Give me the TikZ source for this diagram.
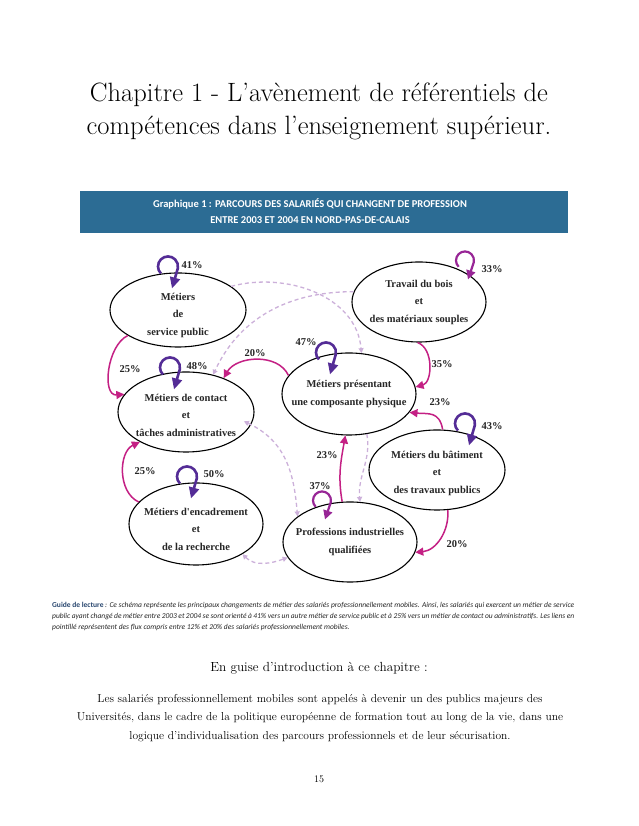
\documentclass[tikz,border=0pt]{standalone}
\usepackage{fontspec}
\usetikzlibrary{arrows.meta,shapes.geometric,calc}
\newfontfamily\elfont{Liberation Serif}
\newfontfamily\sansc{Carlito}
\definecolor{barblue}{RGB}{44,108,148}
\definecolor{loopdark}{RGB}{84,44,150}
\definecolor{loopmag}{RGB}{152,38,150}
\definecolor{flowmag}{RGB}{196,32,132}
\definecolor{lilac}{RGB}{204,176,218}
\definecolor{guideblue}{RGB}{40,70,110}
\begin{document}
\begin{tikzpicture}[x=1pt,y=1pt,
 metier/.style={ellipse, draw=black, line width=1.1pt, inner sep=0pt},
 mtext/.style={align=center, inner sep=0pt, font=\elfont\bfseries\fontsize{10.5}{17.5}\selectfont, text=black!85},
 selfloop/.style={loopdark, line width=2.6pt, -{Triangle[length=11pt,width=10pt]}},
 selfloopm/.style={loopmag, line width=2.2pt, -{Triangle[length=9pt,width=9pt]}},
 flow/.style={flowmag, line width=1.5pt, -{Triangle[length=8pt,width=8pt]}},
 minor/.style={lilac, line width=1.3pt, dash pattern=on 4pt off 3pt, -{Triangle[length=5pt,width=5pt]}},
 minorboth/.style={lilac, line width=1.3pt, dash pattern=on 4pt off 3pt, {Triangle[length=5pt,width=5pt]}-{Triangle[length=5pt,width=5pt]}},
 pct/.style={font=\elfont\bfseries\fontsize{10.5}{12}\selectfont, text=black!85, inner sep=0pt},
 guide/.style={anchor=west, inner sep=0pt, font=\sansc\itshape\fontsize{7.5}{9}\selectfont, text=black!85},
]
\useasboundingbox (0,0) rectangle (638,826);
\fill[white] (0,0) rectangle (638,826);

% title
\node[align=center, font=\fontsize{26.5}{33}\selectfont] (title) at (319,714.5)
  {Chapitre 1 - L’avènement de référentiels de\\compétences dans l’enseignement supérieur.};

% header bar
\node[fill=barblue, minimum width=488pt, minimum height=42pt, inner sep=0pt] (bar) at (324,614) {};
\node[align=center, text=white, font=\sansc\bfseries\fontsize{10.5}{16}\selectfont] (bartext) at (310,615)
  {Graphique 1 : PARCOURS DES SALARIÉS QUI CHANGENT DE PROFESSION\\ENTRE 2003 ET 2004 EN NORD-PAS-DE-CALAIS};

% ellipses
\node[metier, minimum width=136pt, minimum height=74pt] (SP) at (178,516) {};
\node[metier, minimum width=134pt, minimum height=80pt] (TB) at (419,524) {};
\node[metier, minimum width=136pt, minimum height=80pt] (CT) at (186,414) {};
\node[metier, minimum width=134pt, minimum height=82pt] (CP) at (349,432) {};
\node[metier, minimum width=136pt, minimum height=80pt] (BT) at (437,356) {};
\node[metier, minimum width=134pt, minimum height=82pt] (EN) at (196,302) {};
\node[metier, minimum width=134pt, minimum height=80pt] (PI) at (350,284) {};
\node[mtext] (SPt) at ($(SP)+(0,-5)$) {Métiers\\de\\service public};
\node[mtext] (TBt) at (TB) {Travail du bois\\et\\des matériaux souples};
\node[mtext] (CTt) at ($(CT)+(0,-3)$) {Métiers de contact\\et\\tâches administratives};
\node[mtext] (CPt) at (CP) {Métiers présentant\\une composante physique};
\node[mtext] (BTt) at ($(BT)+(0,-3)$) {Métiers du bâtiment\\et\\des travaux publics};
\node[mtext] (ENt) at ($(EN)+(0,-5)$) {Métiers d'encadrement\\et\\de la recherche};
\node[mtext] (PIt) at (PI) {Professions industrielles\\qualifiées};

% dashed minor flows
\draw[minor] (SP.24) to[out=15, in=95] (CP.73);
\draw[minor] (TB.171) to[out=180, in=65] (CT.54);
\draw[minorboth, shorten <=-8pt] (CT.349) to[out=-25, in=95] (PI.154);
\draw[minorboth] (EN.327) to[out=-45, in=200] (PI.194);
\draw[minor] (CP.294) to[out=-80, in=95] (PI.76);

% main flows
\draw[flow] (SP.207) to[out=205, in=185] (CT.164);
\draw[flow] (CP.163) to[out=115, in=60] (CT.42);
\draw[flow] (TB.268) to[out=-20, in=15] (CP.6);
\draw[flow] (BT.82) to[out=100, in=-5, looseness=1.3] (CP.343);
\draw[flow] (PI.101) to[out=100, in=-100] (CP.265);
\draw[flow] (EN.159) to[out=155, in=205] (CT.213);
\draw[flow] (BT.285) to[out=-85, in=5] (PI.351);

% self loops
\coordinate (SPl) at ($(SP.north)+(-10,6)$);
\coordinate (CTl) at ($(CT.north)+(-16,4)$);
\coordinate (CPl) at ($(CP.north)+(-23,0)$);
\coordinate (BTl) at ($(BT.north)+(28,6)$);
\coordinate (ENl) at ($(EN.north)+(-9,6)$);
\coordinate (TBl) at ($(TB.north)+(46,1)$);
\coordinate (PIl) at ($(PI.north)+(-28,1)$);
\foreach \c in {SPl,CTl,CPl,BTl,ENl}{
  \draw[selfloop] ($(\c)+(225:10)$) arc[start angle=225, end angle=-10, radius=10] -- ($(\c)+(4,-22)$);
}
\foreach \c in {TBl,PIl}{
  \draw[selfloopm] ($(\c)+(225:9)$) arc[start angle=225, end angle=-10, radius=9] -- ($(\c)+(3,-19)$);
}

% percentages
\node[pct] (p41) at (192,561) {41\%};
\node[pct] (p48) at (197,460) {48\%};
\node[pct] (p47) at (306,484) {47\%};
\node[pct] (p33) at (492,557) {33\%};
\node[pct] (p43) at (492,400) {43\%};
\node[pct] (p50) at (214,352) {50\%};
\node[pct] (p37) at (320,340) {37\%};
\node[pct] (p25a) at (130,457) {25\%};
\node[pct] (p20a) at (255,473) {20\%};
\node[pct] (p35) at (442,462) {35\%};
\node[pct] (p23a) at (440,424) {23\%};
\node[pct] (p23b) at (327,371) {23\%};
\node[pct] (p25b) at (145,355) {25\%};
\node[pct] (p20b) at (457,282) {20\%};

% guide de lecture
\node[guide] (g1) at (52,220)
  {\makebox[522pt][s]{{\upshape\bfseries\color{guideblue}Guide de lecture} : Ce schéma représente les principaux changements de métier des salariés professionnellement mobiles. Ainsi, les salariés qui exercent un métier de service}};
\node[guide] (g2) at (52,209)
  {\makebox[522pt][s]{public ayant changé de métier entre 2003 et 2004 se sont orienté à 41\% vers un autre métier de service public et à 25\% vers un métier de contact ou administratifs. Les liens en}};
\node[guide] (g3) at (52,198)
  {pointillé représentent des flux compris entre 12\% et 20\% des salariés professionnellement mobiles.};

% bottom text
\node[font=\fontsize{13.2}{15}\selectfont] (intro) at (319,158) {En guise d’introduction à ce chapitre :};
\node[align=center, font=\fontsize{11.5}{18.5}\selectfont] (para) at (320,108)
  {Les salariés professionnellement mobiles sont appelés à devenir un des publics majeurs des\\
   Universités, dans le cadre de la politique européenne de formation tout au long de la vie, dans une\\
   logique d’individualisation des parcours professionnels et de leur sécurisation.};
\node[font=\fontsize{10}{12}\selectfont] (page) at (319,47) {15};
\end{tikzpicture}
\end{document}
